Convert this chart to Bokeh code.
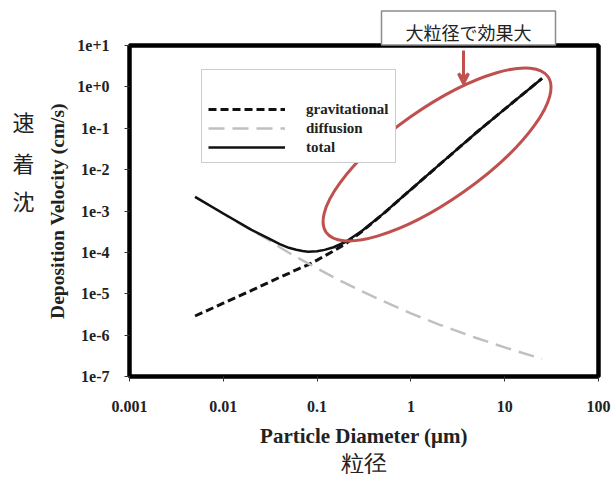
from bokeh.plotting import figure
from bokeh.models import (Range1d, FixedTicker, CustomJSTickFormatter, Legend, LegendItem,
                          Arrow, VeeHead, Title, LinearAxis, LinearScale)
from bokeh.embed import file_html
from bokeh.resources import INLINE
import math

# ---- data ----
diameter_um = [0.005, 0.01, 0.02, 0.03, 0.04, 0.05, 0.06, 0.07, 0.08, 0.1, 0.12, 0.15, 0.2,
               0.3, 0.5, 1, 2, 5, 10, 25]
v_gravitational = [2.9e-6, 5.9e-6, 1.2e-5, 1.85e-5, 2.5e-5, 3.1e-5, 3.8e-5, 4.4e-5, 5.0e-5,
                   6.5e-5, 8.2e-5, 1.08e-4, 1.6e-4, 3.2e-4, 8.3e-4, 3.3e-3, 1.3e-2, 7.9e-2,
                   2.9e-1, 1.6]
v_diffusion = [2.2e-3, 8.6e-4, 3.4e-4, 2.05e-4, 1.33e-4, 9.8e-5, 7.8e-5, 6.4e-5, 5.4e-5,
               4.1e-5, 3.3e-5, 2.5e-5, 1.8e-5, 1.15e-5, 6.7e-6, 3.35e-6, 1.8e-6, 8.5e-7,
               5.05e-7, 2.66e-7]
v_total = [2.2e-3, 8.7e-4, 3.5e-4, 2.2e-4, 1.58e-4, 1.29e-4, 1.16e-4, 1.08e-4, 1.04e-4,
           1.06e-4, 1.15e-4, 1.33e-4, 1.78e-4, 3.3e-4, 8.4e-4, 3.3e-3, 1.3e-2, 7.9e-2,
           2.9e-1, 1.6]

x_ticks = [0.001, 0.01, 0.1, 1, 10, 100]
y_ticks = [1e-7, 1e-6, 1e-5, 1e-4, 1e-3, 1e-2, 1e-1, 1e0, 1e1]

series_names = ["gravitational", "diffusion", "total"]
callout_text = "大粒径で効果大"
y_label_cjk = ["沈", "着", "速"]     # drawn bottom -> top
x_label_cjk = "粒径"

# ---- styles ----
RED = "#c0504d"
SERIF = "Liberation Serif"
CJK = "Noto Sans CJK JP"
INK = "#222222"

p = figure(width=613, height=480, x_axis_type="log", y_axis_type="log",
           x_range=Range1d(0.001, 100), y_range=Range1d(1e-7, 10),
           output_backend="svg", toolbar_location=None,
           min_border_left=129, min_border_top=45, min_border_right=15, min_border_bottom=104)
p.background_fill_color = "white"
p.border_fill_color = "white"
p.outline_line_color = "black"
p.outline_line_width = 4.5
p.xgrid.visible = False
p.ygrid.visible = False

for ax in (p.xaxis[0], p.yaxis[0]):
    ax.axis_line_color = None
    ax.major_tick_line_color = "#333333"
    ax.major_tick_line_width = 1
    ax.major_tick_in = 0
    ax.major_tick_out = 5
    ax.minor_tick_line_color = None
    ax.major_label_text_font = SERIF
    ax.major_label_text_font_style = "bold"
    ax.major_label_text_font_size = "16px"
    ax.major_label_text_color = INK
    ax.axis_label_text_font = SERIF
    ax.axis_label_text_font_style = "bold"
    ax.axis_label_text_color = INK

p.xaxis.axis_label_text_font_size = "21px"
p.yaxis.axis_label_text_font_size = "19.5px"
p.xaxis.ticker = FixedTicker(ticks=x_ticks, minor_ticks=[])
p.yaxis.ticker = FixedTicker(ticks=y_ticks, minor_ticks=[])
p.xaxis.formatter = CustomJSTickFormatter(code="""
const e = Math.round(Math.log10(tick));
return e < 0 ? tick.toFixed(-e) : tick.toFixed(0);
""")
p.yaxis.formatter = CustomJSTickFormatter(code="""
const e = Math.round(Math.log10(tick));
return '1e' + (e >= 0 ? '+' : '-') + Math.abs(e);
""")
p.xaxis.major_label_standoff = 19
p.yaxis.major_label_standoff = 15
p.xaxis.axis_label = "Particle Diameter (\u03bcm)"
p.yaxis.axis_label = "Deposition Velocity (cm/s)"
p.xaxis.axis_label_standoff = 9
p.yaxis.axis_label_standoff = 6

r_g = p.line(diameter_um, v_gravitational, line_color="#111111", line_width=3, line_dash="8 4")
r_d = p.line(diameter_um, v_diffusion, line_color="#c0c0c0", line_width=2.5, line_dash="16 8")
r_t = p.line(diameter_um, v_total, line_color="#111111", line_width=2.5)

legend = Legend(items=[LegendItem(label=series_names[0], renderers=[r_g]),
                       LegendItem(label=series_names[1], renderers=[r_d]),
                       LegendItem(label=series_names[2], renderers=[r_t])],
                location=(72, 213), margin=0, padding=6,
                title=" ", title_text_font_size="18.5px", title_standoff=2,
                glyph_width=77, glyph_height=18, label_height=18, spacing=1,
                label_standoff=21,
                label_text_font=SERIF, label_text_font_style="bold",
                label_text_font_size="15px", label_text_color=INK,
                border_line_color="#9a9a9a", border_line_width=1,
                background_fill_color="white", background_fill_alpha=1)
p.add_layout(legend, "center")

# red ellipse highlighting the large-diameter part
p.ellipse(x=[1.9], y=[0.0233], width=271, height=92, angle=math.radians(35.1),
          width_units="screen", height_units="screen",
          fill_color=None, line_color=RED, line_width=3)

# red arrow from the callout down to the ellipse (screen units relative to the frame)
p.add_layout(Arrow(x_start=334, y_start=326, x_end=334, y_end=293,
                   start_units="screen", end_units="screen",
                   line_color=RED, line_width=3,
                   end=VeeHead(size=10, line_color=RED, line_width=3, fill_color=None)))

# callout box above the frame
p.add_layout(Title(text=callout_text, align="right", offset=43, vertical_align="bottom",
                   standoff=1, text_font=CJK, text_font_size="18px",
                   text_font_style="normal", text_color=INK,
                   background_fill_color="white", border_line_color="#8c8c8c",
                   border_line_width=1.5,
                   padding=dict(left=24, right=24, top=8, bottom=0)), "above")

# upright CJK caption stacked on the left (extra axis with character tick labels)
p.extra_y_ranges = {"cjk": Range1d(0, 331)}
p.extra_y_scales = {"cjk": LinearScale()}
cjk_axis = LinearAxis(y_range_name="cjk",
                      ticker=FixedTicker(ticks=[177, 215, 256], minor_ticks=[]),
                      formatter=CustomJSTickFormatter(args=dict(labels=y_label_cjk),
                                                      code="return labels[index];"),
                      axis_line_color=None, major_tick_line_color=None,
                      minor_tick_line_color=None, major_tick_in=0, major_tick_out=0,
                      major_label_standoff=10, major_label_text_font=CJK,
                      major_label_text_font_size="22px", major_label_text_color=INK)
p.add_layout(cjk_axis, "left")

# CJK caption under the x axis label (serif metrics keep it compact; glyphs fall back to CJK)
p.add_layout(Title(text=x_label_cjk, align="center", vertical_align="top", standoff=0,
                   text_font=SERIF, text_font_size="23px", text_font_style="normal",
                   text_color=INK), "below")

open("out.html", "w").write(file_html(p, INLINE))
